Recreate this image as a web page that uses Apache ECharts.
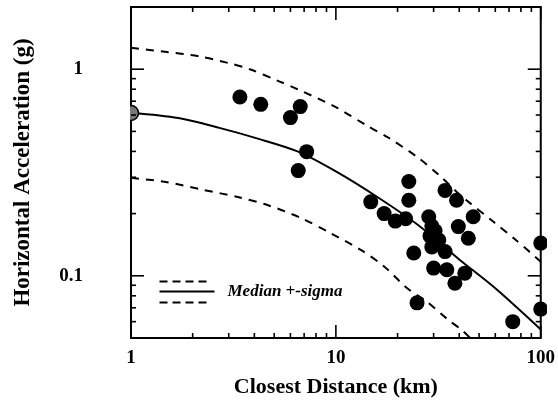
<!DOCTYPE html>
<html>
<head>
<meta charset="utf-8">
<script src="https://cdn.jsdelivr.net/npm/echarts@6/dist/echarts.min.js"></script>
<style>
  html, body { margin: 0; padding: 0; background: #fff; }
  #chart { width: 558px; height: 404px; }
</style>
</head>
<body>
<div id="chart"></div>
<script>
  // recorded peaks (km, g)
  var recDist = [3.4, 4.3, 6.7, 6.0, 7.2, 6.55,
    14.8, 17.2, 19.5, 21.9, 22.7, 22.7, 34.1, 38.8, 46.8, 28.4, 29.4, 28.8, 31.8, 30.5,
    39.6, 44.3, 24.0, 29.4, 34.1, 30.0, 34.8, 42.6, 38.1, 24.9, 73.0, 100, 100];
  var recPga = [0.733, 0.676, 0.659, 0.583, 0.399, 0.323,
    0.228, 0.200, 0.184, 0.189, 0.232, 0.286, 0.259, 0.232, 0.193, 0.193, 0.174, 0.156, 0.149, 0.165,
    0.173, 0.152, 0.129, 0.138, 0.131, 0.109, 0.107, 0.103, 0.092, 0.074, 0.060, 0.069, 0.144];
  // the hatched record sitting on the left axis
  var hatchDist = [1];
  var hatchPga = [0.614];

  // attenuation curve
  var medianDist = [1, 1.7, 2.7, 4.2, 6.5, 10, 16, 25, 40, 60, 100];
  var medianPga = [0.615, 0.58, 0.52, 0.46, 0.40, 0.32, 0.24, 0.177, 0.12, 0.087, 0.055];
  var upperDist = [1, 1.5, 2.15, 3, 3.8, 5.25, 6.5, 10, 14.3, 18, 25, 32, 39, 43.4, 58.6, 75.6, 100];
  var upperPga = [1.27, 1.21, 1.155, 1.07, 1.0, 0.876, 0.80, 0.655, 0.53, 0.467, 0.375, 0.306, 0.254, 0.232, 0.183, 0.149, 0.117];
  var lowerDist = [1, 1.5, 2.23, 3.36, 4.7, 6.8, 9.5, 13.3, 17.2, 22.3, 27.8, 34.8, 41.8, 48];
  var lowerPga = [0.298, 0.284, 0.261, 0.24, 0.219, 0.19, 0.16, 0.133, 0.111, 0.087, 0.075, 0.062, 0.054, 0.047];

  // tick positions
  var xMajor = [1, 10, 100];
  var xMinor = [2, 3, 4, 5, 6, 7, 8, 9, 20, 30, 40, 50, 60, 70, 80, 90];
  var yMajor = [0.1, 1];
  var yMinor = [0.06, 0.07, 0.08, 0.09, 0.2, 0.3, 0.4, 0.5, 0.6, 0.7, 0.8, 0.9];

  function zip(a, b) {
    return a.map(function (v, i) { return [v, b[i]]; });
  }

  var font = 'Liberation Serif, Times New Roman, serif';

  function seg(x1, y1, x2, y2) {
    return { type: 'line', shape: { x1: x1, y1: y1, x2: x2, y2: y2 }, style: { stroke: '#000', lineWidth: 1.6 } };
  }

  // inward ticks on all four sides of the frame
  function tickSeries(values, dir, len) {
    return {
      type: 'custom',
      silent: true,
      z: 5,
      data: values.map(function (v) { return dir === 'x' ? [v, 1] : [1, v]; }),
      renderItem: function (params, api) {
        var cs = params.coordSys;
        var kids = [];
        if (dir === 'x') {
          var px = api.coord([api.value(0), 1])[0];
          kids.push(seg(px, cs.y + cs.height, px, cs.y + cs.height - len));
          kids.push(seg(px, cs.y, px, cs.y + len));
        } else {
          var py = api.coord([1, api.value(1)])[1];
          kids.push(seg(cs.x, py, cs.x + len, py));
          kids.push(seg(cs.x + cs.width, py, cs.x + cs.width - len, py));
        }
        return { type: 'group', children: kids };
      }
    };
  }

  function decade(v) {
    var l = Math.log10(v);
    return Math.abs(l - Math.round(l)) < 1e-6 ? String(v) : '';
  }

  var chart = echarts.init(document.getElementById('chart'));
  chart.setOption({
    animation: false,
    backgroundColor: '#fff',
    grid: { left: 131, right: 12, top: 7, bottom: 66, show: true, borderColor: '#000', borderWidth: 2 },
    xAxis: {
      type: 'log', logBase: 10, min: 1, max: 100,
      name: 'Closest Distance (km)', nameLocation: 'middle', nameGap: 38,
      nameTextStyle: { fontFamily: font, fontSize: 22, fontWeight: 'bold', color: '#000' },
      axisLine: { show: false }, axisTick: { show: false }, splitLine: { show: false },
      axisLabel: { formatter: decade, fontFamily: font, fontSize: 19, fontWeight: 'bold', color: '#000', margin: 11 }
    },
    yAxis: {
      type: 'log', logBase: 10, min: 0.05, max: 2,
      name: 'Horizontal Acceleration (g)', nameLocation: 'middle', nameGap: 96,
      nameTextStyle: { fontFamily: font, fontSize: 23, fontWeight: 'bold', color: '#000' },
      axisLine: { show: false }, axisTick: { show: false }, splitLine: { show: false },
      axisLabel: { formatter: decade, fontFamily: font, fontSize: 19, fontWeight: 'bold', color: '#000', margin: 48 }
    },
    graphic: [
      { type: 'rect', left: 547, top: 0, shape: { width: 11, height: 340 }, style: { fill: '#fff' }, z: 100 },
      { type: 'rect', left: 110, top: 0, shape: { width: 20, height: 340 }, style: { fill: '#fff' }, z: 100 },
      {
        type: 'group', left: 157, top: 279, z: 50,
        children: [
          { type: 'line', shape: { x1: 0, y1: 4, x2: 52, y2: 4 }, style: { stroke: '#000', lineWidth: 2, lineDash: [8, 5] } },
          { type: 'line', shape: { x1: 0, y1: 14, x2: 55, y2: 14 }, style: { stroke: '#000', lineWidth: 2 } },
          { type: 'line', shape: { x1: 0, y1: 25, x2: 52, y2: 25 }, style: { stroke: '#000', lineWidth: 2, lineDash: [8, 5] } },
          { type: 'text', x: 68, y: 14, style: { text: 'Median +-sigma', fill: '#000', font: 'italic bold 17px ' + font, verticalAlign: 'middle' } }
        ]
      }
    ],
    series: [
      {
        name: 'median', type: 'line', data: zip(medianDist, medianPga), smooth: 0.3, showSymbol: false,
        lineStyle: { color: '#000', width: 2 }, z: 3
      },
      {
        name: 'upper', type: 'line', data: zip(upperDist, upperPga), smooth: 0.3, showSymbol: false,
        lineStyle: { color: '#000', width: 2, type: [8, 7] }, z: 3
      },
      {
        name: 'lower', type: 'line', data: zip(lowerDist, lowerPga), smooth: 0.3, showSymbol: false,
        lineStyle: { color: '#000', width: 2, type: [8, 7] }, z: 3
      },
      {
        name: 'records', type: 'scatter', data: zip(recDist, recPga), symbolSize: 15,
        itemStyle: { color: '#000', opacity: 1 }, z: 4
      },
      {
        name: 'hatched', type: 'scatter', data: zip(hatchDist, hatchPga), symbolSize: 15,
        itemStyle: { color: '#777', borderColor: '#000', borderWidth: 1.5, opacity: 1 }, z: 4
      },
      tickSeries(xMajor, 'x', 13),
      tickSeries(xMinor, 'x', 5),
      tickSeries(yMajor, 'y', 13),
      tickSeries(yMinor, 'y', 5)
    ]
  });
</script>
</body>
</html>
